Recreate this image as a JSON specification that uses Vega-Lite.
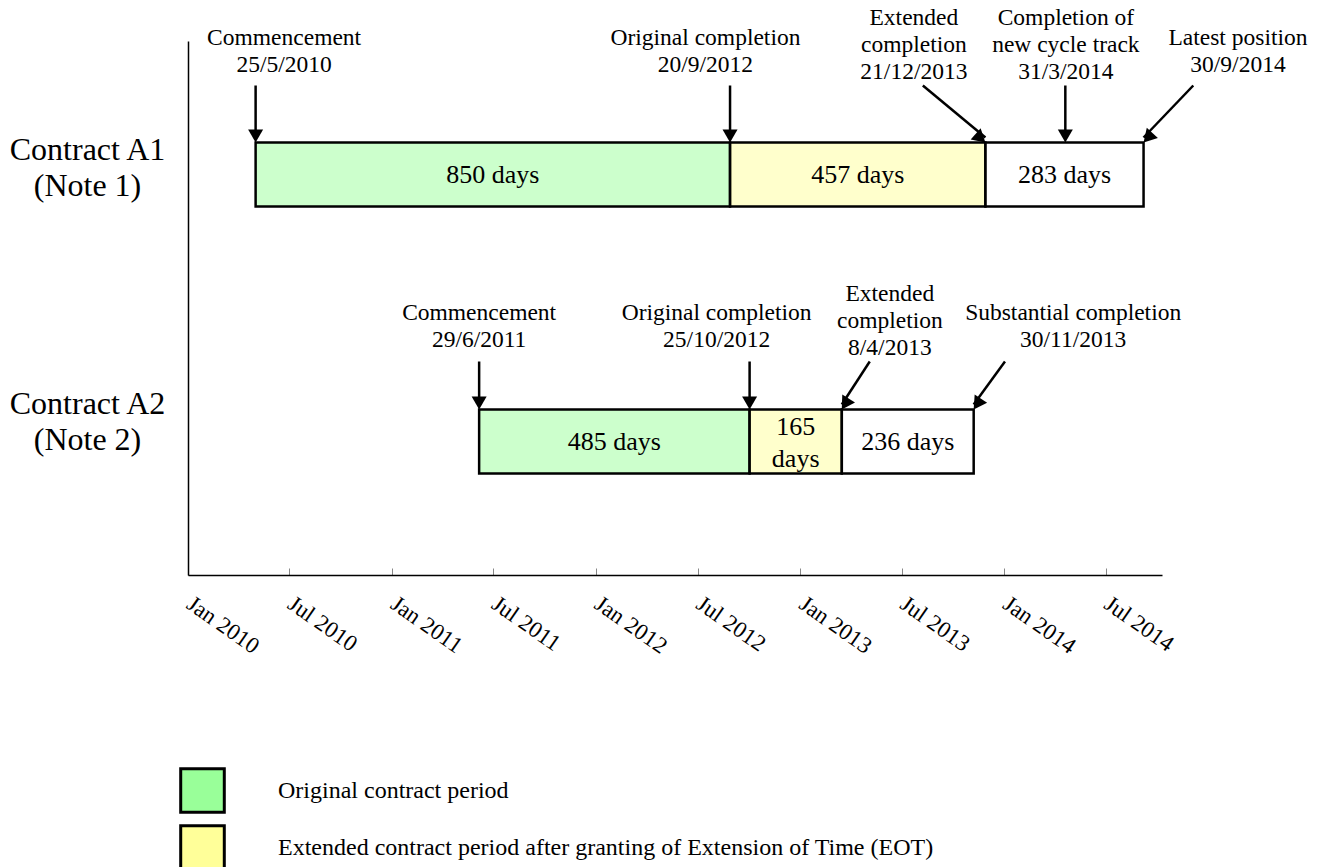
{
  "$schema": "https://vega.github.io/schema/vega-lite/v6.json",
  "width": 974,
  "height": 534,
  "autosize": {"type": "none"},
  "padding": {"left": 188, "top": 41, "right": 162, "bottom": 292},
  "background": "white",
  "config": {"view": {"stroke": null}, "font": "Liberation Serif"},
  "datasets": {
    "bars": [
      {"contract": "Contract A1 (Note 1)", "period": "Original contract period", "start": "2010-05-25", "end": "2012-09-20", "days": 850},
      {"contract": "Contract A1 (Note 1)", "period": "Extended contract period after granting of Extension of Time (EOT)", "start": "2012-09-20", "end": "2013-12-21", "days": 457},
      {"contract": "Contract A1 (Note 1)", "period": "Period beyond extended completion", "start": "2013-12-21", "end": "2014-09-30", "days": 283},
      {"contract": "Contract A2 (Note 2)", "period": "Original contract period", "start": "2011-06-29", "end": "2012-10-25", "days": 485},
      {"contract": "Contract A2 (Note 2)", "period": "Extended contract period after granting of Extension of Time (EOT)", "start": "2012-10-25", "end": "2013-04-08", "days": 165},
      {"contract": "Contract A2 (Note 2)", "period": "Period beyond extended completion", "start": "2013-04-08", "end": "2013-11-30", "days": 236}
    ],
    "milestones": [
      {"id": "A1-com", "contract": "Contract A1 (Note 1)", "label": "Commencement\n25/5/2010", "arrow_at": "2010-05-25", "tail_at": "2010-05-25", "label_at": "2010-07-15"},
      {"id": "A1-orig", "contract": "Contract A1 (Note 1)", "label": "Original completion\n20/9/2012", "arrow_at": "2012-09-20", "tail_at": "2012-09-20", "label_at": "2012-08-07"},
      {"id": "A1-ext", "contract": "Contract A1 (Note 1)", "label": "Extended\ncompletion\n21/12/2013", "arrow_at": "2013-12-21", "tail_at": "2013-08-31", "label_at": "2013-08-15"},
      {"id": "A1-cyc", "contract": "Contract A1 (Note 1)", "label": "Completion of\nnew cycle track\n31/3/2014", "arrow_at": "2014-05-13", "tail_at": "2014-05-13", "label_at": "2014-05-14"},
      {"id": "A1-latest", "contract": "Contract A1 (Note 1)", "label": "Latest position\n30/9/2014", "arrow_at": "2014-09-30", "tail_at": "2014-12-28", "label_at": "2015-03-18"},
      {"id": "A2-com", "contract": "Contract A2 (Note 2)", "label": "Commencement\n29/6/2011", "arrow_at": "2011-06-29", "tail_at": "2011-06-29", "label_at": "2011-06-29"},
      {"id": "A2-orig", "contract": "Contract A2 (Note 2)", "label": "Original completion\n25/10/2012", "arrow_at": "2012-10-25", "tail_at": "2012-10-25", "label_at": "2012-08-27"},
      {"id": "A2-ext", "contract": "Contract A2 (Note 2)", "label": "Extended\ncompletion\n8/4/2013", "arrow_at": "2013-04-08", "tail_at": "2013-05-28", "label_at": "2013-07-03"},
      {"id": "A2-sub", "contract": "Contract A2 (Note 2)", "label": "Substantial completion\n30/11/2013", "arrow_at": "2013-11-30", "tail_at": "2014-01-25", "label_at": "2014-05-27"}
    ]
  },
  "encoding": {
    "y": {
      "field": "contract",
      "type": "nominal",
      "scale": {"domain": ["Contract A1 (Note 1)", "Contract A2 (Note 2)"], "paddingInner": 0, "paddingOuter": 0},
      "axis": {
        "title": null,
        "ticks": false,
        "tickSize": 0,
        "domainColor": "black",
        "domainWidth": 1.5,
        "labelFont": "Liberation Serif",
        "labelFontSize": 32,
        "labelColor": "black",
        "labelAlign": "center",
        "labelBaseline": "middle",
        "labelPadding": 101,
        "labelOffset": {"condition": {"test": "datum.value == 'Contract A1 (Note 1)'", "value": -25}, "value": -38},
        "labelLineHeight": 36,
        "labelLimit": 0,
        "labelExpr": "split(replace(datum.label, ' (', '|('), '|')"
      }
    }
  },
  "layer": [
    {
      "data": {"name": "bars"},
      "mark": {"type": "bar", "height": 64, "stroke": "black", "strokeWidth": 2.5, "fillOpacity": 0.5},
      "encoding": {
        "x": {
          "field": "start",
          "type": "temporal",
          "scale": {"domain": [{"year": 2010, "month": 1, "date": 24}, {"year": 2014, "month": 11, "date": 2}]},
          "axis": {
            "title": null,
            "grid": false,
            "values": [
              {"year": 2010, "month": 1, "date": 24}, {"year": 2010, "month": 7, "date": 24},
              {"year": 2011, "month": 1, "date": 24}, {"year": 2011, "month": 7, "date": 24},
              {"year": 2012, "month": 1, "date": 24}, {"year": 2012, "month": 7, "date": 24},
              {"year": 2013, "month": 1, "date": 24}, {"year": 2013, "month": 7, "date": 24},
              {"year": 2014, "month": 1, "date": 24}, {"year": 2014, "month": 7, "date": 24}
            ],
            "format": "%b %Y",
            "labelAngle": 35,
            "labelAlign": "left",
            "labelBaseline": "top",
            "labelFont": "Liberation Serif",
            "labelFontSize": 23,
            "labelColor": "black",
            "labelPadding": 24,
            "labelOffset": 7,
            "labelOverlap": false,
            "labelFlush": false,
            "tickSize": -7,
            "tickColor": "#888888",
            "domainColor": "black",
            "domainWidth": 1.5
          }
        },
        "x2": {"field": "end"},
        "color": {
          "field": "period",
          "type": "nominal",
          "scale": {
            "domain": ["Original contract period", "Extended contract period after granting of Extension of Time (EOT)", "Period beyond extended completion"],
            "range": ["#99FF99", "#FFFF99", "#FFFFFF"]
          },
          "legend": {
            "orient": "none",
            "direction": "vertical",
            "legendX": -9,
            "legendY": 726,
            "title": null,
            "values": ["Original contract period", "Extended contract period after granting of Extension of Time (EOT)"],
            "symbolType": "square",
            "symbolSize": 1900,
            "symbolStrokeColor": "black",
            "symbolStrokeWidth": 3,
            "symbolOpacity": 1,
            "labelFont": "Liberation Serif",
            "labelFontSize": 24,
            "labelColor": "black",
            "labelLimit": 0,
            "labelOffset": 52,
            "rowPadding": 0,
            "padding": 0
          }
        }
      }
    },
    {
      "data": {"name": "bars"},
      "transform": [
        {"calculate": "(time(datum.start) + time(datum.end)) / 2", "as": "mid"},
        {"calculate": "datum.days + ' days'", "as": "label"},
        {"filter": "datum.days >= 200"}
      ],
      "mark": {"type": "text", "font": "Liberation Serif", "fontSize": 26, "color": "black", "align": "center", "baseline": "middle"},
      "encoding": {"x": {"field": "mid", "type": "temporal"}, "text": {"field": "label"}}
    },
    {
      "data": {"name": "bars"},
      "transform": [
        {"calculate": "(time(datum.start) + time(datum.end)) / 2", "as": "mid"},
        {"calculate": "datum.days + ' days'", "as": "label"},
        {"filter": "datum.days < 200"}
      ],
      "mark": {"type": "text", "font": "Liberation Serif", "fontSize": 26, "color": "black", "align": "center", "baseline": "middle", "lineBreak": " ", "lineHeight": 32, "yOffset": -15},
      "encoding": {"x": {"field": "mid", "type": "temporal"}, "text": {"field": "label"}}
    },
    {
      "data": {"name": "milestones"},
      "transform": [{"filter": "datum.contract == 'Contract A1 (Note 1)'"}],
      "mark": {"type": "rule", "color": "black", "strokeWidth": 2.5, "yOffset": -37, "y2Offset": -89},
      "encoding": {
        "x": {"field": "arrow_at", "type": "temporal"},
        "x2": {"field": "tail_at"},
        "y2": {"field": "contract"}
      }
    },
    {
      "data": {"name": "milestones"},
      "transform": [{"filter": "datum.contract == 'Contract A2 (Note 2)'"}],
      "mark": {"type": "rule", "color": "black", "strokeWidth": 2.5, "yOffset": -37, "y2Offset": -80},
      "encoding": {
        "x": {"field": "arrow_at", "type": "temporal"},
        "x2": {"field": "tail_at"},
        "y2": {"field": "contract"}
      }
    },
    {
      "data": {"name": "milestones"},
      "transform": [{"filter": "indexof(['A1-ext','A1-latest','A2-ext','A2-sub'], datum.id) < 0"}],
      "mark": {"type": "point", "shape": "triangle-down", "filled": true, "color": "black", "opacity": 1, "size": 225, "yOffset": -38.5},
      "encoding": {"x": {"field": "arrow_at", "type": "temporal"}}
    },
    {
      "data": {"name": "milestones"},
      "transform": [{"filter": "datum.id == 'A1-ext'"}],
      "mark": {"type": "point", "shape": "triangle-down", "filled": true, "color": "black", "opacity": 1, "size": 225, "xOffset": -4.9, "yOffset": -36.3, "angle": -48.4},
      "encoding": {"x": {"field": "arrow_at", "type": "temporal"}}
    },
    {
      "data": {"name": "milestones"},
      "transform": [{"filter": "datum.id == 'A1-latest'"}],
      "mark": {"type": "point", "shape": "triangle-down", "filled": true, "color": "black", "opacity": 1, "size": 225, "xOffset": 4.4, "yOffset": -36.8, "angle": 42.3},
      "encoding": {"x": {"field": "arrow_at", "type": "temporal"}}
    },
    {
      "data": {"name": "milestones"},
      "transform": [{"filter": "datum.id == 'A2-ext'"}],
      "mark": {"type": "point", "shape": "triangle-down", "filled": true, "color": "black", "opacity": 1, "size": 225, "xOffset": 3.4, "yOffset": -37.5, "angle": 32},
      "encoding": {"x": {"field": "arrow_at", "type": "temporal"}}
    },
    {
      "data": {"name": "milestones"},
      "transform": [{"filter": "datum.id == 'A2-sub'"}],
      "mark": {"type": "point", "shape": "triangle-down", "filled": true, "color": "black", "opacity": 1, "size": 225, "xOffset": 3.6, "yOffset": -37.4, "angle": 33.7},
      "encoding": {"x": {"field": "arrow_at", "type": "temporal"}}
    },
    {
      "data": {"name": "milestones"},
      "transform": [{"filter": "datum.contract == 'Contract A1 (Note 1)' && length(split(datum.label, '\\n')) == 2"}],
      "mark": {"type": "text", "font": "Liberation Serif", "fontSize": 23.5, "lineHeight": 27, "lineBreak": "\n", "color": "black", "align": "center", "baseline": "middle", "yOffset": -137},
      "encoding": {"x": {"field": "label_at", "type": "temporal"}, "text": {"field": "label"}}
    },
    {
      "data": {"name": "milestones"},
      "transform": [{"filter": "datum.contract == 'Contract A1 (Note 1)' && length(split(datum.label, '\\n')) == 3"}],
      "mark": {"type": "text", "font": "Liberation Serif", "fontSize": 23.5, "lineHeight": 27, "lineBreak": "\n", "color": "black", "align": "center", "baseline": "middle", "yOffset": -157},
      "encoding": {"x": {"field": "label_at", "type": "temporal"}, "text": {"field": "label"}}
    },
    {
      "data": {"name": "milestones"},
      "transform": [{"filter": "datum.contract == 'Contract A2 (Note 2)' && length(split(datum.label, '\\n')) == 2"}],
      "mark": {"type": "text", "font": "Liberation Serif", "fontSize": 23.5, "lineHeight": 27, "lineBreak": "\n", "color": "black", "align": "center", "baseline": "middle", "yOffset": -129},
      "encoding": {"x": {"field": "label_at", "type": "temporal"}, "text": {"field": "label"}}
    },
    {
      "data": {"name": "milestones"},
      "transform": [{"filter": "datum.contract == 'Contract A2 (Note 2)' && length(split(datum.label, '\\n')) == 3"}],
      "mark": {"type": "text", "font": "Liberation Serif", "fontSize": 23.5, "lineHeight": 27, "lineBreak": "\n", "color": "black", "align": "center", "baseline": "middle", "yOffset": -148},
      "encoding": {"x": {"field": "label_at", "type": "temporal"}, "text": {"field": "label"}}
    }
  ]
}
